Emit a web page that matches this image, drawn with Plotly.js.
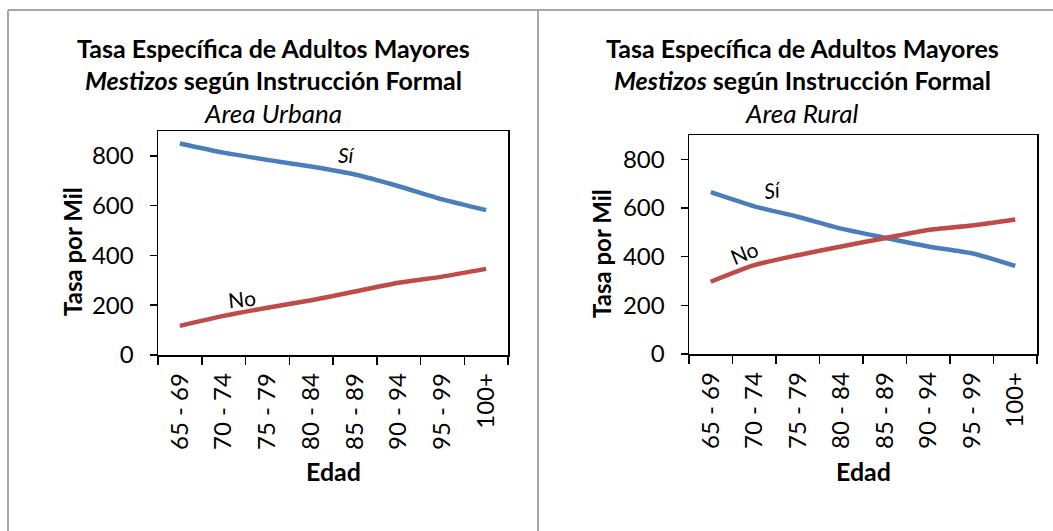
<!DOCTYPE html>
<html>
<head>
<meta charset="utf-8">
<script src="https://cdn.plot.ly/plotly-3.0.1.min.js"></script>
<style>
  html, body { margin: 0; padding: 0; background: #fff; }
  #chart { width: 1053px; height: 531px; }
</style>
</head>
<body>
<div id="chart"></div>
<script>
// ---- data ----
const edades = ["65 - 69", "70 - 74", "75 - 79", "80 - 84", "85 - 89", "90 - 94", "95 - 99", "100+"];
const urbanaSi = [850, 813, 784, 757, 725, 678, 625, 582];
const urbanaNo = [117, 157, 190, 220, 255, 290, 315, 346];
const ruralSi  = [665, 607, 564, 515, 478, 442, 414, 362];
const ruralNo  = [297, 365, 406, 442, 476, 510, 528, 553];
const yTicks = [0, 200, 400, 600, 800];
const titulo1 = "Tasa Específica de Adultos Mayores";
const titulo2 = "<i>Mestizos</i> según Instrucción Formal";
const subtituloUrbana = "<i>Area Urbana</i>";
const subtituloRural = "<i>Area Rural</i>";

const W = 1053, H = 531;
const BLUE = "#4A7EBB", RED = "#BE4B48";
const FONT = "Lato, 'Open Sans', sans-serif";
const px = v => v / W;
const py = v => 1 - v / H;

function line(x, y, color, xa, ya) {
  return { type: "scatter", mode: "lines", x: x, y: y, xaxis: xa, yaxis: ya,
           line: { color: color, width: 4.5, shape: "spline", smoothing: 0.6 },
           hoverinfo: "skip", showlegend: false };
}

const data = [
  line(edades, urbanaSi, BLUE, "x", "y"),
  line(edades, urbanaNo, RED, "x", "y"),
  line(edades, ruralSi, BLUE, "x2", "y2"),
  line(edades, ruralNo, RED, "x2", "y2")
];

function xax(domain, anchor) {
  return { domain: domain, anchor: anchor, type: "category", range: [-0.5, 7.5],
           showline: true, linecolor: "#000", linewidth: 1.5, mirror: true,
           ticks: "outside", tickson: "boundaries", ticklen: 8, tickwidth: 1.5, tickcolor: "#000",
           tickangle: -90, ticklabelstandoff: 7,
           tickfont: { family: FONT, size: 24, color: "#000" },
           showgrid: false, zeroline: false, fixedrange: true };
}
function yax(domain, anchor) {
  return { domain: domain, anchor: anchor, range: [0, 900], tickvals: yTicks,
           showline: true, linecolor: "#000", linewidth: 1.5, mirror: true,
           ticks: "outside", ticklen: 7, tickwidth: 1.5, tickcolor: "#000",
           ticklabelstandoff: 11,
           tickfont: { family: FONT, size: 24, color: "#000" },
           showgrid: false, zeroline: false, fixedrange: true };
}

function ann(text, x, y, size, opts) {
  return Object.assign({ text: text, x: px(x), y: py(y), xref: "paper", yref: "paper",
    showarrow: false, xanchor: "center", yanchor: "middle",
    font: { family: FONT, size: size, color: "#000" } }, opts || {});
}

const bold = t => "<b>" + t + "</b>";

const annotations = [
  ann(bold(titulo1), 273, 48, 25),
  ann(bold(titulo2), 273, 80, 25),
  ann(subtituloUrbana, 273, 113, 26),
  ann(bold(titulo1), 802, 48, 25),
  ann(bold(titulo2), 802, 80, 25),
  ann(subtituloRural, 802, 113, 26),
  ann(bold("Tasa por Mil"), 72, 252, 24, { textangle: -90 }),
  ann(bold("Tasa por Mil"), 601, 254, 24, { textangle: -90 }),
  ann(bold("Edad"), 333, 471, 25),
  ann(bold("Edad"), 863, 471, 25),
  ann("<i>Sí</i>", 347, 155, 21),
  ann("No", 242, 298, 21, { textangle: -6 }),
  ann("<i>Sí</i>", 773, 190, 21, { textangle: -8 }),
  ann("No", 744, 252, 21, { textangle: -22 })
];

const GRAY = "#A6A6A6";
const shapes = [
  { type: "line", xref: "paper", yref: "paper", x0: px(8), x1: 1, y0: py(10), y1: py(10), line: { color: GRAY, width: 2 } },
  { type: "line", xref: "paper", yref: "paper", x0: px(8), x1: px(8), y0: py(10), y1: 0, line: { color: GRAY, width: 2 } },
  { type: "line", xref: "paper", yref: "paper", x0: px(538), x1: px(538), y0: py(10), y1: 0, line: { color: GRAY, width: 2 } }
];

const layout = {
  width: W, height: H,
  margin: { l: 0, r: 0, t: 0, b: 0 },
  paper_bgcolor: "#fff", plot_bgcolor: "#fff",
  showlegend: false,
  xaxis: xax([px(158), px(508)], "y"),
  yaxis: yax([py(355), py(131)], "x"),
  xaxis2: xax([px(689), px(1037)], "y2"),
  yaxis2: yax([py(354), py(135)], "x2"),
  annotations: annotations,
  shapes: shapes
};

Plotly.newPlot("chart", data, layout, { displayModeBar: false, staticPlot: true });
</script>
</body>
</html>
